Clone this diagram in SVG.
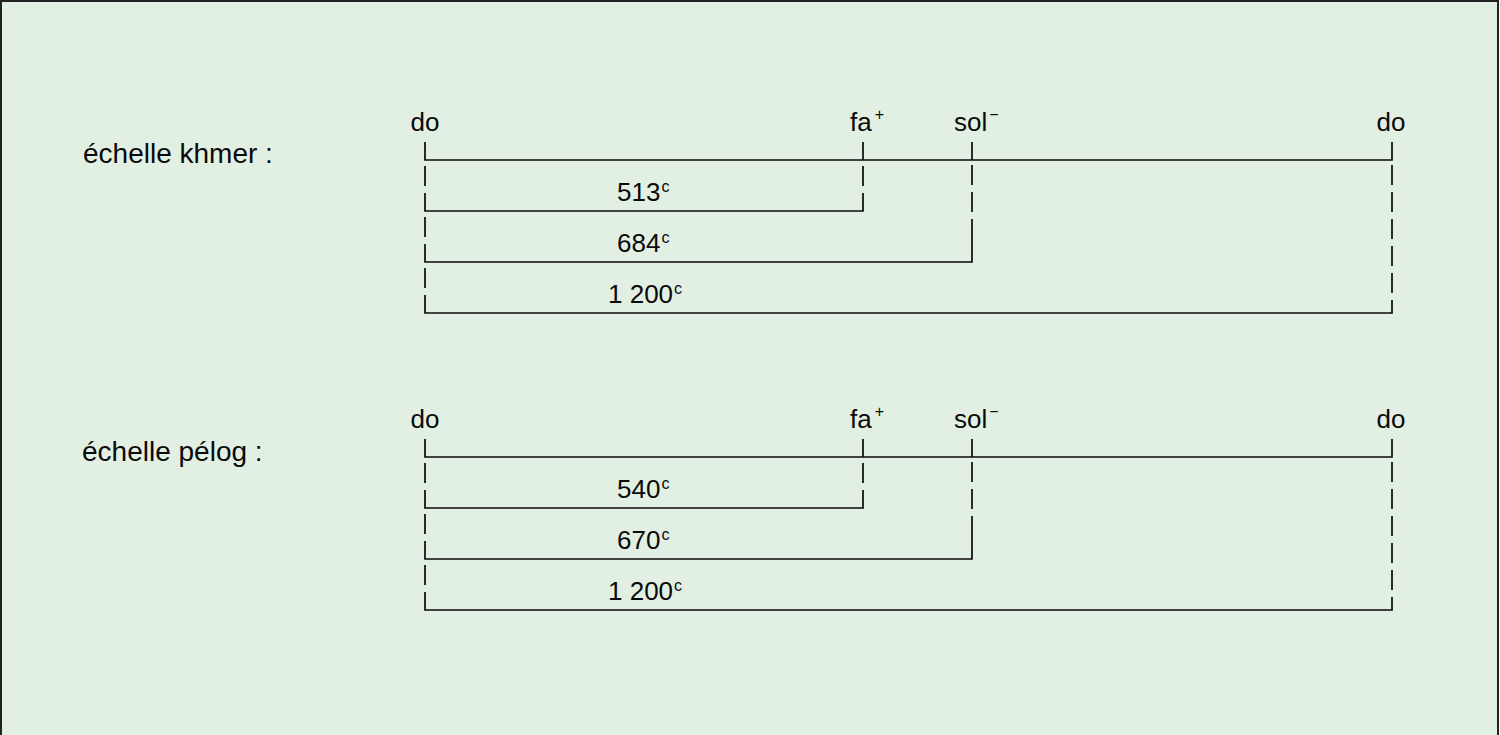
<svg xmlns="http://www.w3.org/2000/svg" width="1500" height="735" viewBox="0 0 1500 735">
<style>
.t{font-family:"Liberation Sans",Arial,sans-serif;font-size:26px;fill:#0a0a0a}
.lbl{font-family:"Liberation Sans",Arial,sans-serif;font-size:28px;fill:#0a0a0a}
.sup{font-size:16px}
.s{stroke:#0a0a0a;stroke-width:1.7;fill:none}
.d{stroke:#0a0a0a;stroke-width:1.7;fill:none;stroke-dasharray:20 7}
</style>
<rect x="1" y="1" width="1497" height="745" fill="#e2efe3" stroke="#222" stroke-width="2"/>
<g id="khmer">
  <g id="khmer-label"><text class="lbl" x="83" y="163">échelle khmer :</text></g>
  <g id="khmer-notes">
    <text class="t" x="425" y="131" text-anchor="middle">do</text>
    <text class="t" x="850" y="131">fa<tspan class="sup" dx="3" dy="-11">+</tspan></text>
    <text class="t" x="954" y="131">sol<tspan class="sup" dx="2" dy="-11">−</tspan></text>
    <text class="t" x="1391" y="131" text-anchor="middle">do</text>
  </g>
  <g id="khmer-values">
    <text class="t" x="617" y="201">513<tspan class="sup" dx="1" dy="-9">c</tspan></text>
    <text class="t" x="617" y="252">684<tspan class="sup" dx="1" dy="-9">c</tspan></text>
    <text class="t" x="608" y="303">1 200<tspan class="sup" dx="1" dy="-9">c</tspan></text>
  </g>
  <g id="khmer-lines">
    <path class="s" d="M425 142V160H1392V142M863 142V160M972 142V160"/>
    <path class="d" d="M425 166V193M425 217V244M425 268V295"/>
    <path class="s" d="M425 193V211H863V193M425 244V262H972V237M425 295V313H1392V300"/>
    <path class="d" d="M863 166V193M972 165V237M1392 165V300"/>
  </g>
</g>
<g id="pelog">
  <g id="pelog-label"><text class="lbl" x="82" y="461">échelle pélog :</text></g>
  <g id="pelog-notes">
    <text class="t" x="425" y="428" text-anchor="middle">do</text>
    <text class="t" x="850" y="428">fa<tspan class="sup" dx="3" dy="-11">+</tspan></text>
    <text class="t" x="954" y="428">sol<tspan class="sup" dx="2" dy="-11">−</tspan></text>
    <text class="t" x="1391" y="428" text-anchor="middle">do</text>
  </g>
  <g id="pelog-values">
    <text class="t" x="617" y="498">540<tspan class="sup" dx="1" dy="-9">c</tspan></text>
    <text class="t" x="617" y="549">670<tspan class="sup" dx="1" dy="-9">c</tspan></text>
    <text class="t" x="608" y="600">1 200<tspan class="sup" dx="1" dy="-9">c</tspan></text>
  </g>
  <g id="pelog-lines">
    <path class="s" d="M425 439V457H1392V439M863 439V457M972 439V457"/>
    <path class="d" d="M425 463V490M425 514V541M425 565V592"/>
    <path class="s" d="M425 490V508H863V490M425 541V559H972V534M425 592V610H1392V597"/>
    <path class="d" d="M863 463V490M972 462V534M1392 462V597"/>
  </g>
</g>
</svg>
